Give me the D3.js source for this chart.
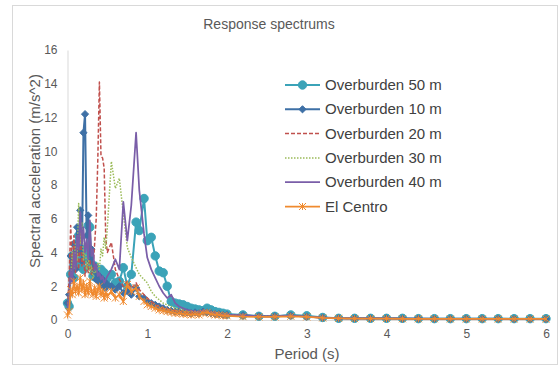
<!DOCTYPE html>
<html><head><meta charset="utf-8">
<script src="https://cdn.jsdelivr.net/npm/d3@7"></script>
<style>body{margin:0;background:#fff;} text{font-family:"Liberation Sans",Arial,sans-serif;}</style>
</head><body>
<svg id="c" width="559" height="367"></svg>
<script>
const periods = [0,0.02,0.04,0.06,0.08,0.10,0.12,0.14,0.16,0.18,0.20,0.22,0.24,0.26,0.28,0.30,0.32,0.34,0.36,0.38,0.40,0.42,0.44,0.46,0.48,0.50,
0.55,0.60,0.65,0.70,0.75,0.80,0.86,0.90,0.96,1.00,1.05,1.10,1.15,1.20,1.25,1.30,1.35,1.40,1.45,1.50,1.55,1.60,1.65,1.70,1.75,1.80,1.85,1.90,1.95,2.00,
2.2,2.4,2.6,2.8,3.0,3.2,3.4,3.6,3.8,4.0,4.2,4.4,4.6,4.8,5.0,5.2,5.4,5.6,5.8,6.0];

const ob50 = [1.0,0.8,2.7,3.8,2.5,4.5,3.2,5.0,3.5,4.2,3.0,3.6,3.9,5.6,5.5,3.2,2.6,3.2,2.5,2.8,2.4,3.0,2.6,2.8,2.2,2.5,
2.7,2.2,2.3,3.1,2.0,2.7,5.8,5.3,7.2,4.7,4.9,3.8,2.9,2.8,2.0,1.1,1.0,0.95,0.9,0.8,0.7,0.65,0.6,0.55,0.7,0.6,0.5,0.45,0.4,0.35,
0.3,0.22,0.22,0.3,0.25,0.15,0.1,0.1,0.1,0.1,0.1,0.08,0.08,0.08,0.08,0.08,0.08,0.08,0.08,0.08];
const ob10 = [1.0,1.5,3.8,2.5,4.5,3.0,5.5,4.0,6.5,3.5,11.1,12.2,5.0,6.2,3.5,4.2,2.8,3.2,2.4,2.7,2.2,2.5,2.0,2.3,1.9,2.1,
2.0,1.8,2.0,1.6,1.7,1.5,1.9,1.4,1.3,1.1,1.0,0.9,0.8,0.7,0.6,0.55,0.5,0.5,0.45,0.45,0.4,0.45,0.4,0.5,0.45,0.4,0.35,0.35,0.3,0.3,
0.28,0.22,0.22,0.26,0.2,0.14,0.1,0.09,0.09,0.09,0.08,0.08,0.07,0.07,0.07,0.07,0.07,0.06,0.06,0.06];
const ob20 = [0.5,2.5,5.6,3.0,5.0,2.8,4.2,3.0,5.5,3.2,4.0,2.6,3.4,2.8,3.6,2.7,3.0,4.5,6.0,9.5,14.1,9.7,9.6,9.0,4.8,4.0,
4.6,3.0,2.4,2.0,2.3,1.9,2.2,1.8,1.5,1.3,1.1,0.9,0.8,0.7,0.65,0.6,0.55,0.5,0.5,0.45,0.4,0.45,0.4,0.5,0.45,0.4,0.35,0.35,0.3,0.3,
0.28,0.22,0.22,0.26,0.2,0.14,0.1,0.09,0.09,0.09,0.08,0.08,0.07,0.07,0.07,0.07,0.07,0.06,0.06,0.06];
const ob30 = [0.6,1.5,2.5,4.0,3.0,4.5,3.5,6.9,4.5,5.8,3.5,4.5,3.0,3.8,2.8,3.2,2.5,3.0,2.8,3.4,3.0,4.2,3.8,4.9,4.2,5.5,
9.4,7.8,8.4,6.3,4.3,3.7,3.1,2.7,2.4,2.2,1.7,1.4,1.2,1.0,0.9,0.8,0.7,0.65,0.6,0.55,0.5,0.5,0.45,0.5,0.45,0.4,0.35,0.35,0.3,0.3,
0.28,0.22,0.22,0.26,0.2,0.14,0.1,0.09,0.09,0.09,0.08,0.08,0.07,0.07,0.07,0.07,0.07,0.06,0.06,0.06];
const ob40 = [0.7,1.2,3.0,2.2,4.0,3.0,5.0,4.2,6.4,4.5,5.5,4.0,4.8,3.6,5.9,3.8,4.2,3.0,3.3,2.6,2.8,2.4,2.6,2.2,2.4,2.6,
3.0,3.6,3.0,7.0,4.7,6.8,11.1,7.7,5.1,3.7,3.0,2.5,2.0,1.6,1.3,1.5,1.0,0.8,0.7,0.6,0.55,0.5,0.5,0.55,0.5,0.45,0.4,0.35,0.3,0.3,
0.28,0.22,0.22,0.26,0.2,0.14,0.1,0.09,0.09,0.09,0.08,0.08,0.07,0.07,0.07,0.07,0.07,0.06,0.06,0.06];
const elCentro = [0.3,0.5,1.8,1.5,2.3,1.7,2.0,1.6,2.5,1.8,2.2,1.5,2.0,1.6,2.3,1.7,1.5,1.9,1.4,1.8,2.0,1.5,1.7,1.3,1.6,1.4,
1.7,1.3,1.5,1.1,2.1,1.7,1.9,1.4,1.1,0.9,0.8,0.7,0.6,0.55,0.5,0.45,0.4,0.4,0.35,0.35,0.3,0.35,0.3,0.4,0.45,0.35,0.3,0.3,0.25,0.25,
0.2,0.18,0.18,0.22,0.18,0.12,0.1,0.08,0.08,0.08,0.07,0.07,0.07,0.06,0.06,0.06,0.06,0.06,0.06,0.06];

const seriesNames = ["Overburden 50 m","Overburden 10 m","Overburden 20 m","Overburden 30 m","Overburden 40 m","El Centro"];
const seriesValues = [ob50, ob10, ob20, ob30, ob40, elCentro];
const xTicks = [0,1,2,3,4,5,6];
const yTicks = [0,2,4,6,8,10,12,14,16];

const styles = [
  {color:"#3ba3b8", width:2, dash:null, marker:"circle"},
  {color:"#3e70a6", width:2, dash:null, marker:"diamond"},
  {color:"#c0504d", width:1.5, dash:"4,2", marker:null},
  {color:"#9bbb59", width:1.5, dash:"1.5,1.5", marker:null},
  {color:"#7a5ea8", width:1.75, dash:null, marker:null},
  {color:"#f08a2f", width:1.75, dash:null, marker:"asterisk"}
];

const svg = d3.select("#c");
svg.append("rect").attr("x",12.5).attr("y",5.5).attr("width",545).attr("height",359)
  .attr("fill","#fff").attr("stroke","#d9d9d9");

const x = d3.scaleLinear().domain([0,6]).range([67.5,546]);
const y = d3.scaleLinear().domain([0,16]).range([320,50]);

const gx = svg.append("g").attr("transform","translate(0,320)")
  .call(d3.axisBottom(x).tickValues(xTicks).tickSize(0).tickPadding(9).tickFormat(d3.format("d")));
const gy = svg.append("g").attr("transform","translate(67.5,0)")
  .call(d3.axisLeft(y).tickValues(yTicks).tickSize(0).tickPadding(10).tickFormat(d3.format("d")));
[gx,gy].forEach(g=>{
  g.select(".domain").attr("stroke","#d9d9d9");
  g.selectAll("text").attr("fill","#595959").attr("font-size","12px");
});

svg.append("text").attr("x",269).attr("y",29).attr("text-anchor","middle")
  .attr("font-size","14px").attr("fill","#595959").text("Response spectrums");
svg.append("text").attr("x",307).attr("y",359).attr("text-anchor","middle")
  .attr("font-size","15px").attr("fill","#595959").text("Period (s)");
svg.append("text").attr("transform","translate(40,171) rotate(-90)").attr("text-anchor","middle")
  .attr("font-size","15px").attr("fill","#595959").text("Spectral acceleration (m/s^2)");

const line = d3.line().x((d,i)=>x(periods[i])).y(d=>y(d));

function drawMarker(g, type, cx, cy, color){
  if(type==="circle"){
    g.append("circle").attr("cx",cx).attr("cy",cy).attr("r",4.2).attr("fill",color).attr("stroke",color);
  } else if(type==="diamond"){
    const s=3.6;
    g.append("path").attr("d",`M${cx},${cy-s}L${cx+s},${cy}L${cx},${cy+s}L${cx-s},${cy}Z`).attr("fill",color).attr("stroke",color);
  } else if(type==="asterisk"){
    const s=3.5;
    g.append("path").attr("d",`M${cx-s},${cy-s}L${cx+s},${cy+s}M${cx-s},${cy+s}L${cx+s},${cy-s}M${cx},${cy-s}L${cx},${cy+s}`)
      .attr("stroke",color).attr("stroke-width",1).attr("fill","none");
  }
}

const plot = svg.append("g");
seriesValues.forEach((vals,si)=>{
  const st = styles[si];
  const g = plot.append("g");
  g.append("path").datum(vals).attr("d",line).attr("fill","none")
    .attr("stroke",st.color).attr("stroke-width",st.width)
    .attr("stroke-dasharray",st.dash).attr("stroke-linejoin","round");
  if(st.marker){
    vals.forEach((v,i)=>drawMarker(g, st.marker, x(periods[i]), y(v), st.color));
  }
});

// legend
const lg = svg.append("g");
seriesNames.forEach((name,i)=>{
  const st = styles[i];
  const ly = 85 + i*24.3;
  lg.append("line").attr("x1",285).attr("x2",320).attr("y1",ly).attr("y2",ly)
    .attr("stroke",st.color).attr("stroke-width",st.width).attr("stroke-dasharray",st.dash);
  if(st.marker) drawMarker(lg, st.marker, 302.5, ly, st.color);
  lg.append("text").attr("x",325).attr("y",ly+5).attr("font-size","15px").attr("fill","#404040").text(name);
});
</script>
</body></html>
